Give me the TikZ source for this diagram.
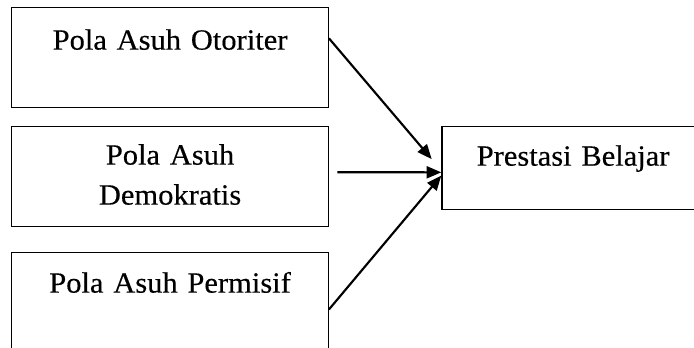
\documentclass[tikz,border=0pt]{standalone}
\usepackage{fontspec}
\setmainfont{Liberation Serif}[FakeStretch=1.04,FakeBold=0.4]
\usetikzlibrary{arrows.meta, calc}

\tikzset{
  box/.style={draw, line width=0.9pt, inner sep=0pt, anchor=north west, align=center, font=\fontsize{22}{30}\selectfont},
  link/.style={line width=1.6pt, -{Triangle[length=11pt,width=9pt]}}
}

\begin{document}
\begin{tikzpicture}[x=0.75pt,y=-0.75pt]
\useasboundingbox (0,0) rectangle (694,348);
% variabel bebas
\node[box, text width=237.4pt, text height=31.3pt, text depth=43.7pt] (otoriter) at (11.2,7.3) {Pola Asuh Otoriter};
\node[box, text width=237.4pt, text height=28.5pt, text depth=46.3pt] (demokratis) at (11.2,126) {Pola Asuh\\Demokratis};
\node[box, text width=237.4pt, text height=29.8pt, text depth=60pt] (permisif) at (11.2,252.3) {Pola Asuh Permisif};
% variabel terikat
\node[box, text width=196.8pt, text height=29.3pt, text depth=33pt] (prestasi) at (441.3,126) {Prestasi Belajar};

\draw[link] ($(otoriter.north east)+(0,31)$) -- ($(prestasi.west)+(-9.6,-9)$);
\draw[link] ($(demokratis.east)+(8.5,-4.2)$) -- ($(prestasi.west)+(0,4.2)$);
\draw[link] ($(permisif.north east)+(0,57.2)$) -- ($(prestasi.west)+(0,7.5)$);
\end{tikzpicture}
\end{document}
